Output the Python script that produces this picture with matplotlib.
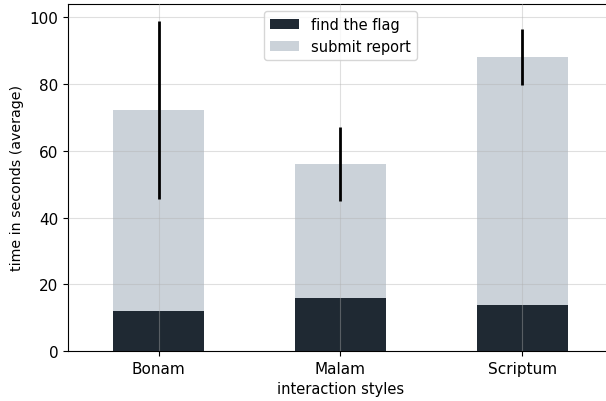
import matplotlib
matplotlib.use("Agg")
import matplotlib.pyplot as plt
import numpy as np

styles = ["Bonam", "Malam", "Scriptum"]
find_flag = [12.0, 15.9, 13.8]
submit_total = [72.2, 56.0, 88.0]
total_err = [26.7, 11.0, 8.4]

submit_part = [t - f for t, f in zip(submit_total, find_flag)]

fig = plt.figure(figsize=(6.06, 4.02), dpi=100)
ax = fig.add_axes([0.112, 0.1244, 0.8996, 0.8632])

x = np.arange(len(styles))
ax.bar(x, find_flag, width=0.5, color="#1f2933", label="find the flag")
ax.bar(x, submit_part, width=0.5, bottom=find_flag, color="#cbd2d9", label="submit report")
ax.errorbar(x, submit_total, yerr=total_err, fmt="none", ecolor="black",
            elinewidth=2, capsize=0, zorder=3)

ax.set_xlim(-0.5, 2.5)
ax.set_ylim(0, 104)
ax.set_xticks(x)
ax.set_xticklabels(styles)
ax.set_yticks(range(0, 101, 20))
ax.tick_params(labelsize=11)
ax.set_xlabel("interaction styles", fontsize=10.5)
ax.set_ylabel("time in seconds (average)", fontsize=10.2)
ax.spines["right"].set_visible(False)
ax.set_axisbelow(False)
ax.grid(True, color="#b0b0b0", alpha=0.4, linewidth=0.8)
ax.legend(loc="upper center", fontsize=10.5)

fig.savefig("out.png", dpi=100)
